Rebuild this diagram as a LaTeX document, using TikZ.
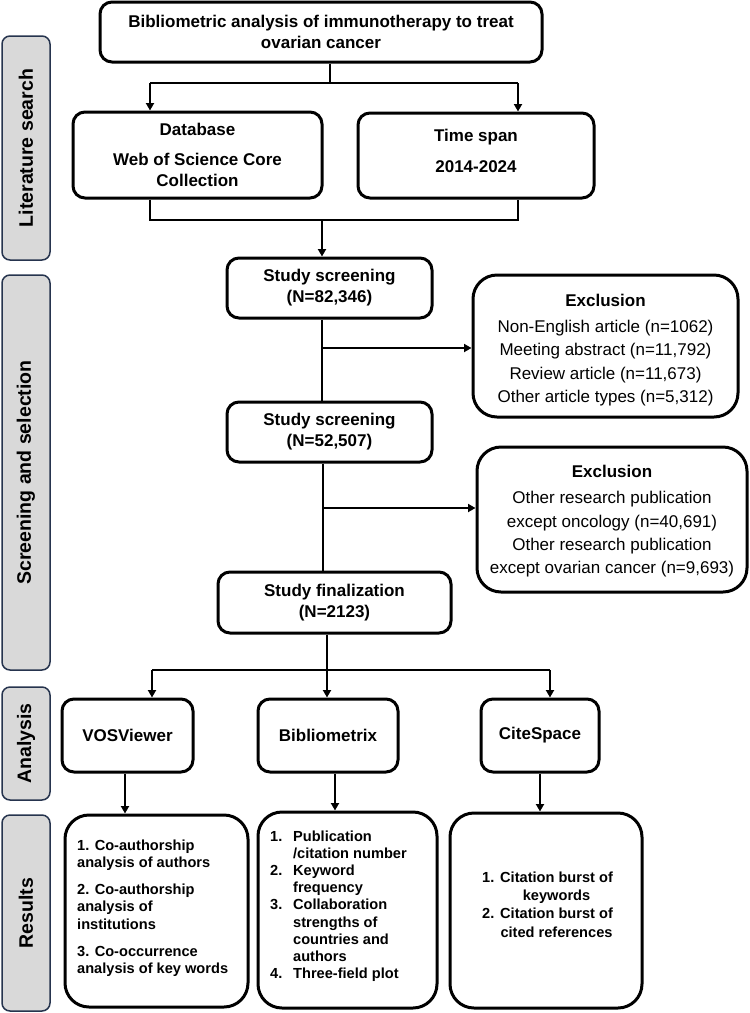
\documentclass[tikz,border=0pt]{standalone}
\usepackage{fontspec}
\setmainfont{Liberation Sans}
\usetikzlibrary{arrows.meta,calc}
\definecolor{sidefill}{RGB}{217,217,217}
\definecolor{sideline}{RGB}{38,52,78}
\begin{document}
\begin{tikzpicture}[x=1pt,y=-1pt,
  box/.style={draw, line width=3pt, rounded corners=12pt, inner sep=0pt, align=center,
    font=\bfseries\fontsize{17}{21}\selectfont},
  bigbox/.style={box, rounded corners=24pt},
  exbox/.style={draw, line width=3pt, rounded corners=24pt, inner sep=0pt, align=center,
    font=\fontsize{17}{23.3}\selectfont},
  side/.style={draw=sideline, fill=sidefill, line width=1.5pt, rounded corners=8pt,
    rotate=90, inner sep=0pt, minimum height=48pt, font=\bfseries\fontsize{19.5}{22}\selectfont},
  restext/.style={anchor=west, inner sep=0pt, font=\bfseries\fontsize{14.6}{17.2}\selectfont},
  conn/.style={line width=2.2pt},
  arr/.style={conn, -{Triangle[length=7.5pt,width=8pt]}}]
\useasboundingbox (0,0) rectangle (750,1013);

% side labels
\node[side, minimum width=224pt] (L1) at (26,148) {Literature search};
\node[side, minimum width=395pt] (L2) at (26,472.5) {Screening and selection};
\node[side, minimum width=113pt] (L3) at (26,743.5) {Analysis};
\node[side, minimum width=196pt] (L4) at (26,913) {Results};

% boxes
\node[box, minimum width=442pt, minimum height=60pt] (title) at (321,32)
  {Bibliometric analysis of immunotherapy to treat\\ovarian cancer};
\node[box, minimum width=249pt, minimum height=86pt] (db) at (197.5,155)
  {Database\\[9pt]Web of Science Core\\Collection};
\node[box, minimum width=236pt, minimum height=85pt] (ts) at (476,155.5)
  {Time span\\[10pt]2014-2024\rule[-10pt]{0pt}{10pt}};
\node[box, minimum width=205pt, minimum height=60pt] (s1) at (329.5,288)
  {Study screening\\(N=82,346)};
\node[exbox, minimum width=265pt, minimum height=142pt] (ex1) at (605.5,346)
  {\rule{0pt}{20pt}\textbf{Exclusion}\\[3pt]Non-English article (n=1062)\\Meeting abstract (n=11,792)\\Review article (n=11,673)\\Other article types (n=5,312)};
\node[box, minimum width=205pt, minimum height=60pt] (s2) at (329.5,432)
  {Study screening\\(N=52,507)};
\node[exbox, minimum width=270pt, minimum height=145pt] (ex2) at (612,519.5)
  {\rule{0pt}{16pt}\textbf{Exclusion}\\[3pt]Other research publication\\except oncology (n=40,691)\\Other research publication\\except ovarian cancer (n=9,693)};
\node[box, minimum width=233pt, minimum height=61pt] (fin) at (334.5,602.5)
  {Study finalization\\(N=2123)};
\node[box, minimum width=131pt, minimum height=73pt] (vos) at (127.5,735.5) {VOSViewer};
\node[box, minimum width=140pt, minimum height=73pt] (bib) at (328,735.5) {Bibliometrix};
\node[box, minimum width=118pt, minimum height=73pt] (cite) at (540,735.5) {CiteSpace};
\node[bigbox, minimum width=183pt, minimum height=192pt] (r1) at (156.5,911) {};
\node[bigbox, minimum width=179pt, minimum height=196pt] (r2) at (347.5,910) {};
\node[bigbox, minimum width=192pt, minimum height=195pt] (r3) at (546,910.5) {};

% result texts
\node[restext] (r1t) at (77,908.5) {\begin{tabular}{@{}l@{}}
1. Co-authorship\\ analysis of authors\\[10pt]
2. Co-authorship\\ analysis of\\ institutions\\[10pt]
3. Co-occurrence\\ analysis of key words\end{tabular}};
\node[restext] (r2t) at (270,906.5) {\begin{tabular}{@{}l@{\hspace{10.8pt}}l@{}}
1. & Publication\\ & /citation number\\
2. & Keyword\\ & frequency\\
3. & Collaboration\\ & strengths of\\ & countries and\\ & authors\\
4. & Three-field plot\end{tabular}};
\node[restext, font=\bfseries\fontsize{14.6}{18.3}\selectfont] (r3t) at (482,906) {\begin{tabular}{@{}l@{\hspace{5.8pt}}c@{}}
1. & Citation burst of\\ & keywords\\
2. & Citation burst of\\ & cited references\end{tabular}};

% connectors
\coordinate (t1) at (330,83);
\coordinate (tl) at (150,83);
\coordinate (tr) at (518,83);
\draw[conn] (t1 |- title.south) -- (t1);
\draw[conn] (tl) -- (tr);
\draw[arr] (tl) -- (tl |- db.north);
\draw[arr] (tr) -- (tr |- ts.north);

\coordinate (ml) at (150,220);
\coordinate (mr) at (518,220);
\coordinate (mm) at (322,220);
\draw[conn] (ml |- db.south) -- (ml) -- (mr) -- (mr |- ts.south);
\draw[arr] (mm) -- (mm |- s1.north);

\coordinate (b1) at (322,348);
\draw[conn] (b1 |- s1.south) -- (b1 |- s2.north);
\draw[arr] (b1) -- (b1 -| ex1.west);

\coordinate (b2) at (323,508);
\draw[conn] (b2 |- s2.south) -- (b2 |- fin.north);
\draw[arr] (b2) -- (b2 -| ex2.west);

\coordinate (al) at (152,670);
\coordinate (ar) at (550,670);
\coordinate (am) at (327,670);
\draw[conn] (am |- fin.south) -- (am);
\draw[conn] (al) -- (ar);
\draw[arr] (al) -- (al |- vos.north);
\draw[arr] (am) -- (am |- bib.north);
\draw[arr] (ar) -- (ar |- cite.north);

\coordinate (rx1) at (125,790);
\coordinate (rx2) at (335,790);
\coordinate (rx3) at (540,790);
\draw[arr] (rx1 |- vos.south) -- (rx1 |- r1.north);
\draw[arr] (rx2 |- bib.south) -- (rx2 |- r2.north);
\draw[arr] (rx3 |- cite.south) -- (rx3 |- r3.north);
\end{tikzpicture}
\end{document}
